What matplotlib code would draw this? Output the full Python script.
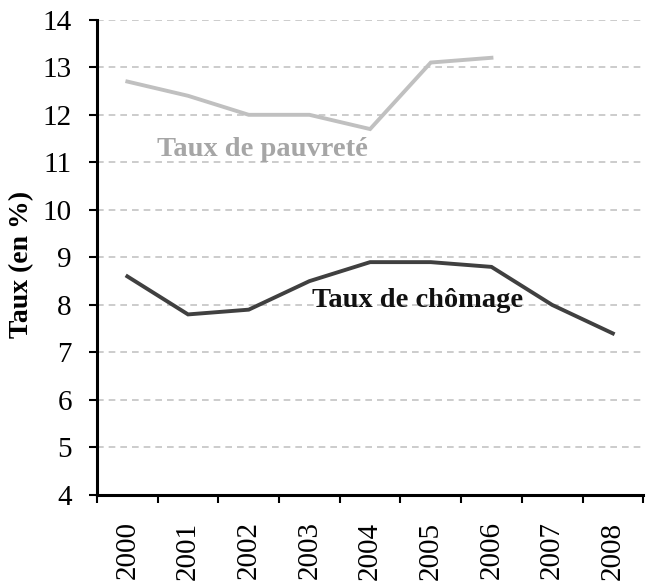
import matplotlib
matplotlib.use("Agg")
import matplotlib.pyplot as plt
import numpy as np

years = ["2000", "2001", "2002", "2003", "2004", "2005", "2006", "2007", "2008"]
pauvrete_years = ["2000", "2001", "2002", "2003", "2004", "2005", "2006"]
pauvrete = [12.7, 12.4, 12.0, 12.0, 11.7, 13.1, 13.2]
chomage = [8.6, 7.8, 7.9, 8.5, 8.9, 8.9, 8.8, 8.0, 7.4]
yticks = [4, 5, 6, 7, 8, 9, 10, 11, 12, 13, 14]

plt.rcParams['font.family'] = ['Liberation Serif', 'DejaVu Serif']

fig = plt.figure(figsize=(6.51, 5.81), dpi=100)
ax = fig.add_axes([0.149, 0.148, 0.839, 0.818])

x_all = np.arange(len(years))
x_p = np.array([years.index(y) for y in pauvrete_years])

ax.plot(x_p, pauvrete, color="#c0c0c0", lw=2.8, solid_joinstyle="miter", zorder=3)
ax.plot(x_all, chomage, color="#404040", lw=2.8, solid_joinstyle="miter", zorder=3)

ax.set_xlim(-0.5, len(years) - 0.5)
ax.set_ylim(4, 14)
ax.set_yticks(yticks)
ax.set_yticklabels([str(v) for v in yticks], fontsize=21)

ax.set_xticks(x_all)
ax.set_xticklabels(years, rotation=90, fontsize=21)
ax.tick_params(axis="x", length=0, pad=19)
ax.set_xticks(np.arange(-0.5, len(years)), minor=True)
ax.tick_params(axis="x", which="minor", length=6, width=1.5, direction="out")
ax.tick_params(axis="y", length=6, width=1.5, direction="out", pad=12)

for v in yticks[1:]:
    ax.axhline(v, color="#c4c4c4", lw=1.2, ls=(0, (4, 3)), zorder=1)

ax.spines["top"].set_visible(False)
ax.spines["right"].set_visible(False)
ax.spines["left"].set_linewidth(2.2)
ax.spines["bottom"].set_linewidth(2.2)

ax.set_ylabel("Taux (en %)", fontsize=20, fontweight="bold")
ax.yaxis.set_label_coords(-0.115, 0.485)

ax.text(2.23, 11.14, "Taux de pauvreté", color="#a6a6a6", fontsize=20.5,
        fontweight="bold", ha="center", va="baseline")
ax.text(4.79, 7.96, "Taux de chômage", color="#111111", fontsize=20.5,
        fontweight="bold", ha="center", va="baseline")

fig.savefig("out.png", dpi=100)
